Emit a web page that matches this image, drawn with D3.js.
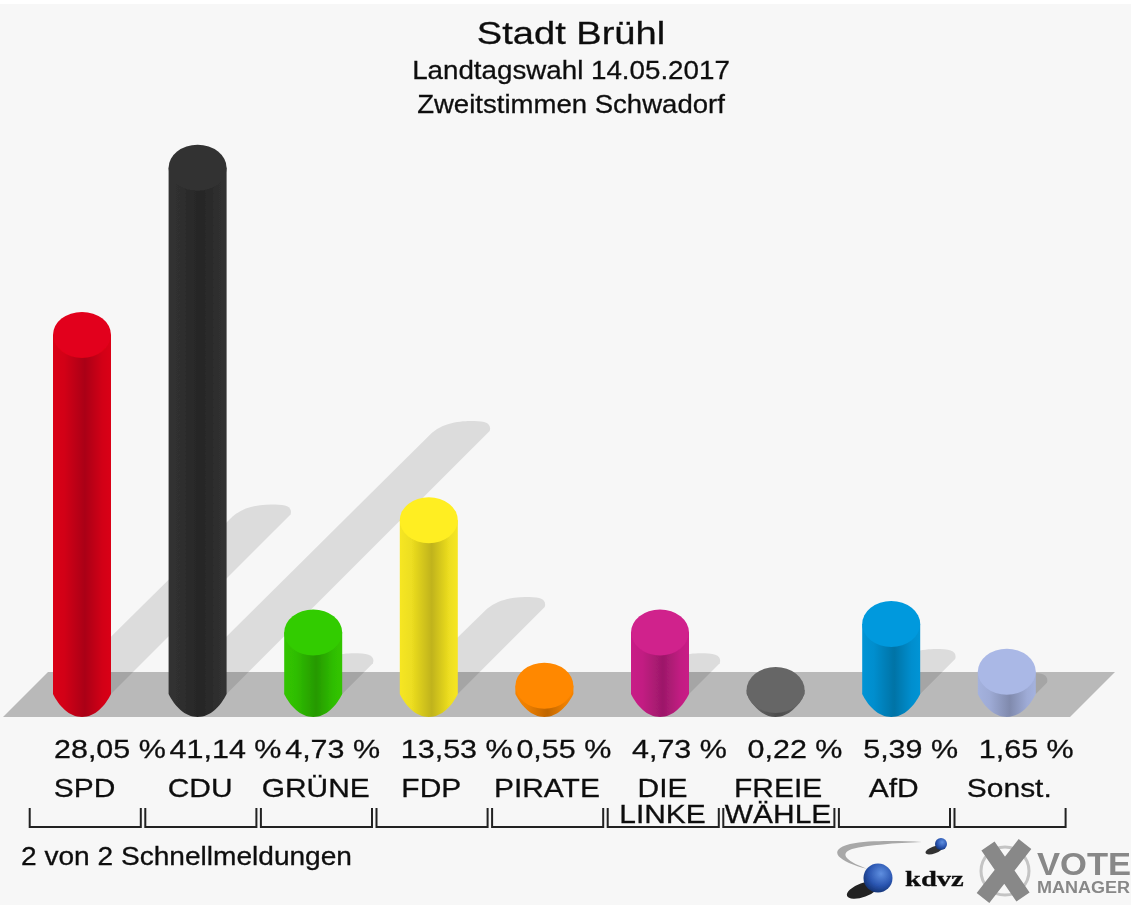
<!DOCTYPE html>
<html>
<head>
<meta charset="utf-8">
<script src="https://cdn.jsdelivr.net/npm/d3@7"></script>
<style>
  html, body { margin: 0; padding: 0; background: #fff; }
  text { font-family: "Liberation Sans", Arial, sans-serif; fill: #111; stroke: #111; stroke-width: 0.3; }
</style>
</head>
<body>
<div id="chart"></div>
<script>
var parties = ["SPD", "CDU", "GRÜNE", "FDP", "PIRATE", "DIE|LINKE", "FREIE|WÄHLE", "AfD", "Sonst."];
var shares = [28.05, 41.14, 4.73, 13.53, 0.55, 4.73, 0.22, 5.39, 1.65];
var shareLabels = ["28,05 %", "41,14 %", "4,73 %", "13,53 %", "0,55 %", "4,73 %", "0,22 %", "5,39 %", "1,65 %"];
var partyColors = ["#e2001a", "#333333", "#33cc00", "#ffee22", "#ff8800", "#d0208c", "#666666", "#0099dd", "#aab8e6"];

var svgWidth = 1131;
var svgHeight = 905;

var rx = 29, ry = 23;
var floorTop = 672, floorBottom = 717, baseY = 694;

var svg = d3.select("#chart").append("svg")
    .attr("width", svgWidth).attr("height", svgHeight)
    .style("display", "block");

var defs = svg.append("defs");

// the reference is an upscaled small image, so everything is a little soft
defs.append("filter").attr("id", "soft")
    .attr("filterUnits", "userSpaceOnUse")
    .attr("x", 0).attr("y", 0)
    .attr("width", svgWidth).attr("height", svgHeight)
    .append("feGaussianBlur").attr("stdDeviation", 0.7);

parties.forEach(function(p, i) {
    var base = d3.color(partyColors[i]);
    var grad = defs.append("linearGradient").attr("id", "bar" + i);
    [[0, 0.1], [0.2, 0.2], [0.55, 0.8], [0.85, 0.2], [1, 0.1]].forEach(function(s) {
        grad.append("stop").attr("offset", s[0]).attr("stop-color", base.darker(s[1]));
    });
});

var ball = defs.append("radialGradient").attr("id", "ball")
    .attr("cx", 0.6).attr("cy", 0.35).attr("r", 0.7);
ball.append("stop").attr("offset", 0).attr("stop-color", "#5f8fe0");
ball.append("stop").attr("offset", 0.6).attr("stop-color", "#2a55b0");
ball.append("stop").attr("offset", 1).attr("stop-color", "#12306e");

var root = svg.append("g").attr("filter", "url(#soft)");

root.append("rect")
    .attr("x", 0).attr("y", 4)
    .attr("width", svgWidth).attr("height", svgHeight - 4)
    .attr("fill", "#f7f7f7");

var xScale = d3.scaleBand().domain(parties).range([24.2, 1064.6]);
// y of the upper edge of a cylinder, the cap ellipse sits just below it
var yScale = d3.scaleLinear().domain([0, 45]).range([669.8, 95.6]);

var cx = function(d) { return xScale(d) + xScale.bandwidth() / 2; };
var capY = function(i) { return yScale(shares[i]) + ry; };

// text in the original is wider than the font, so it gets stretched
function place(x, y, sx) {
    return "translate(" + x + "," + y + ") scale(" + sx + ",1)";
}

// floor
root.append("path")
    .attr("d", d3.line()([[3, floorBottom], [48, floorTop], [1115, floorTop], [1070, floorBottom]]) + "Z")
    .attr("fill", "#b9b9b9");

// shadows fall at 45 degrees, half as long as the cylinder is tall
// the two tiniest bars hide theirs completely
root.selectAll(".shadow").data(parties).enter().append("path")
    .attr("class", "shadow")
    .attr("fill", "#000")
    .attr("opacity", function(d, i) { return baseY - capY(i) < 12 ? 0 : 0.105; })
    .attr("d", function(d, i) {
        var len = (baseY - capY(i)) / 2;
        var x = cx(d) + len, y = baseY - len, b = cx(d);
        return "M" + (b - rx) + "," + baseY +
            "L" + (x - rx) + "," + (y + 2) +
            "C" + (x - 15) + "," + (y - 10) + " " + (x + 3) + "," + (y - 10) + " " + (x + 14) + "," + (y - 10) +
            "Q" + (x + 32) + "," + (y - 10) + " " + (x + rx) + "," + y +
            "L" + (b + rx) + "," + baseY + "Z";
    });

// cylinders
var bars = root.selectAll(".bar").data(parties).enter().append("g").attr("class", "bar");

bars.append("path")
    .attr("fill", function(d, i) { return "url(#bar" + i + ")"; })
    .attr("d", function(d, i) {
        var c = cx(d);
        return "M" + (c - rx) + "," + capY(i) +
            "L" + (c - rx) + "," + baseY +
            "C" + (c - 23) + "," + (baseY + 12) + " " + (c - 13) + "," + floorBottom + " " + c + "," + floorBottom +
            "C" + (c + 13) + "," + floorBottom + " " + (c + 23) + "," + (baseY + 12) + " " + (c + rx) + "," + baseY +
            "L" + (c + rx) + "," + capY(i) + "Z";
    });

bars.append("ellipse")
    .attr("cx", cx)
    .attr("cy", function(d, i) { return capY(i); })
    .attr("rx", rx).attr("ry", ry)
    .attr("fill", function(d, i) { return partyColors[i]; });

// title
var titles = [
    ["Stadt Brühl", 44, 32, 1.19],
    ["Landtagswahl 14.05.2017", 79, 26, 1.067],
    ["Zweitstimmen Schwadorf", 113, 26, 1.06]
];
root.selectAll(".title").data(titles).enter().append("text")
    .attr("class", "title")
    .attr("transform", function(d) { return place(571, d[1], d[3]); })
    .attr("text-anchor", "middle")
    .attr("font-size", function(d) { return d[2]; })
    .text(function(d) { return d[0]; });

// values, left aligned and allowed to run into each other like in the original
root.selectAll(".share").data(parties).enter().append("text")
    .attr("class", "share")
    .attr("transform", function(d) { return place(cx(d) - 28, 758, 1.15); })
    .attr("font-size", 26.5)
    .text(function(d, i) { return shareLabels[i]; });

// party names, "|" marks a line break
var names = root.selectAll(".party").data(parties).enter().append("text")
    .attr("class", "party")
    .attr("transform", function(d) { return place(cx(d) + 2.5, 797, 1.13); })
    .attr("text-anchor", "middle")
    .attr("font-size", 26.5);

names.selectAll("tspan")
    .data(function(d) { return d.split("|"); })
    .enter().append("tspan")
    .attr("x", 0)
    .attr("y", function(t, i) { return i * 26; })
    .text(function(t) { return t; });

// brackets under each party
root.selectAll(".bracket").data(parties).enter().append("path")
    .attr("class", "bracket")
    .attr("fill", "none").attr("stroke", "#222").attr("stroke-width", 2)
    .attr("d", function(d) {
        var l = xScale(d) + 5.5, r = xScale(d) + xScale.bandwidth() + 1;
        return "M" + l + ",808V827H" + r + "V808";
    });

root.append("text")
    .attr("transform", place(21, 865, 1.124))
    .attr("font-size", 25)
    .text("2 von 2 Schnellmeldungen");

// kdvz logo
var kdvz = root.append("g");
kdvz.append("path")
    .attr("d", "M868,869C838,862 826,850 850,844C870,840 900,841 922,842C895,843 868,845 852,849C838,854 848,862 868,869Z")
    .attr("fill", "#a8a8a8");
kdvz.append("ellipse").attr("cx", 934).attr("cy", 850).attr("rx", 9).attr("ry", 3.5)
    .attr("fill", "#333").attr("transform", "rotate(-20 934 850)");
kdvz.append("circle").attr("cx", 941).attr("cy", 844).attr("r", 6).attr("fill", "url(#ball)");
kdvz.append("ellipse").attr("cx", 863).attr("cy", 890).attr("rx", 17).attr("ry", 7)
    .attr("fill", "#222").attr("transform", "rotate(-20 863 890)");
kdvz.append("circle").attr("cx", 878).attr("cy", 878).attr("r", 14.5).attr("fill", "url(#ball)");
kdvz.append("text")
    .attr("transform", place(905, 886, 1.3))
    .attr("font-weight", "bold")
    .attr("font-size", 22)
    .style("font-family", "'Liberation Serif'")
    .text("kdvz");

// vote manager logo
var vote = root.append("g");
vote.append("circle").attr("cx", 1005).attr("cy", 871).attr("r", 24)
    .attr("fill", "none").attr("stroke", "#c4c4c4").attr("stroke-width", 3);
vote.append("path")
    .attr("d", "M988,846L1023,897M1025,844L983,898")
    .attr("stroke", "#888").attr("stroke-width", 16).attr("fill", "none");
vote.append("text")
    .attr("transform", place(1037, 875, 1.08))
    .attr("font-weight", "bold").attr("font-size", 32)
    .style("fill", "#888").style("stroke", "none")
    .text("VOTE");
vote.append("text")
    .attr("transform", place(1037, 893, 1.06))
    .attr("font-weight", "bold").attr("font-size", 17)
    .style("fill", "#888").style("stroke", "none")
    .text("MANAGER");
</script>
</body>
</html>
